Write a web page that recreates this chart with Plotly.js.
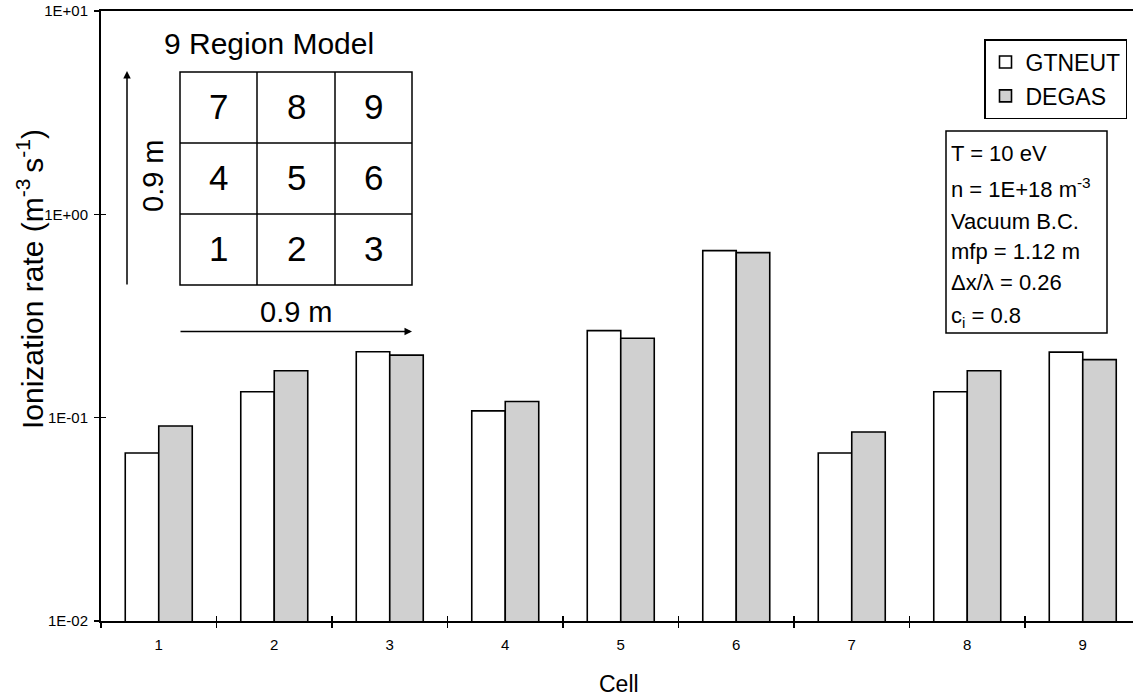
<!DOCTYPE html>
<html>
<head>
<meta charset="utf-8">
<script src="https://cdn.plot.ly/plotly-3.0.1.min.js"></script>
<style>html,body{margin:0;padding:0;background:#fff;}#chart{width:1133px;height:698px;}</style>
</head>
<body>
<div id="chart"></div>
<script>
// ---- data ----
const cells = ['1', '2', '3', '4', '5', '6', '7', '8', '9'];
const gtneut = [0.067, 0.134, 0.211, 0.108, 0.268, 0.663, 0.067, 0.134, 0.210];
const degas  = [0.091, 0.170, 0.203, 0.120, 0.246, 0.648, 0.085, 0.170, 0.193];
const yTickVals = [0.01, 0.1, 1, 10];
const yTickText = ['1E-02', '1E-01', '1E+00', '1E+01'];
const seriesNames = ['GTNEUT', 'DEGAS'];
const gridLabels = [['7', '8', '9'], ['4', '5', '6'], ['1', '2', '3']];
const paramLines = ['T = 10 eV', 'n = 1E+18 m<sup>-3</sup>', 'Vacuum B.C.', 'mfp = 1.12 m', '\u0394x/\u03bb = 0.26', 'c<sub>i</sub> = 0.8'];

// ---- layout geometry ----
const W = 1133, H = 698;
const M = {l: 101, r: 0, t: 11, b: 77};
const PW = W - M.l - M.r, PH = H - M.t - M.b;
const px = x => (x - M.l) / PW;
const py = y => 1 - (y - M.t) / PH;
const FONT = 'Liberation Sans, Arial, sans-serif';
const xRange = [-0.5, -0.5 + PW / 115.5];

const traces = [
  {type: 'bar', name: seriesNames[0], x: cells, y: gtneut, legendgroup: 'a',
   marker: {color: '#ffffff', line: {color: '#000000', width: 1.6}}},
  {type: 'bar', name: seriesNames[1], x: cells, y: degas, legendgroup: 'b',
   marker: {color: '#d0d0d0', line: {color: '#000000', width: 1.6}}},
  // empty carrier for the overlaid tick-only axes (inside half of the crossing ticks)
  {type: 'scatter', mode: 'markers', x: [], y: [], xaxis: 'x2', yaxis: 'y2', showlegend: false, hoverinfo: 'skip'}
];

const shapes = [];
const annotations = [];
const lineStyle = {color: '#000', width: 1.5};

// 9-region grid
const gx = [180, 257, 335, 412], gy = [72, 143, 214, 285];
shapes.push({type: 'rect', xref: 'paper', yref: 'paper', x0: px(gx[0]), x1: px(gx[3]), y0: py(gy[0]), y1: py(gy[3]), line: lineStyle});
[1, 2].forEach(i => {
  shapes.push({type: 'line', xref: 'paper', yref: 'paper', x0: px(gx[i]), x1: px(gx[i]), y0: py(gy[0]), y1: py(gy[3]), line: lineStyle});
  shapes.push({type: 'line', xref: 'paper', yref: 'paper', x0: px(gx[0]), x1: px(gx[3]), y0: py(gy[i]), y1: py(gy[i]), line: lineStyle});
});
gridLabels.forEach((row, r) => row.forEach((t, c) => {
  annotations.push({xref: 'paper', yref: 'paper', x: px((gx[c] + gx[c + 1]) / 2), y: py((gy[r] + gy[r + 1]) / 2 - 1),
    text: t, showarrow: false, xanchor: 'center', yanchor: 'middle', font: {family: FONT, size: 35, color: '#000'}});
}));
annotations.push({xref: 'paper', yref: 'paper', x: px(269), y: py(44), text: '9 Region Model', showarrow: false,
  xanchor: 'center', yanchor: 'middle', font: {family: FONT, size: 30, color: '#000'}});
annotations.push({xref: 'paper', yref: 'paper', x: px(153), y: py(176), text: '0.9 m', textangle: -90, showarrow: false,
  xanchor: 'center', yanchor: 'middle', font: {family: FONT, size: 29, color: '#000'}});
annotations.push({xref: 'paper', yref: 'paper', x: px(296), y: py(312), text: '0.9 m', showarrow: false,
  xanchor: 'center', yanchor: 'middle', font: {family: FONT, size: 29, color: '#000'}});
// arrows
annotations.push({xref: 'paper', yref: 'paper', x: px(127), y: py(71), ax: 0, ay: 215, text: '', showarrow: true,
  arrowhead: 2, arrowsize: 1, arrowwidth: 1.5, arrowcolor: '#000'});
annotations.push({xref: 'paper', yref: 'paper', x: px(412), y: py(331.5), ax: -233, ay: 0, text: '', showarrow: true,
  arrowhead: 2, arrowsize: 1, arrowwidth: 1.5, arrowcolor: '#000'});

// parameter box
shapes.push({type: 'rect', xref: 'paper', yref: 'paper', x0: px(946), x1: px(1107), y0: py(131), y1: py(333), line: lineStyle, fillcolor: '#fff', layer: 'above'});
const paramY = [154, 188, 222, 252, 282, 317];
paramLines.forEach((t, i) => {
  annotations.push({xref: 'paper', yref: 'paper', x: px(949), y: py(paramY[i]), text: t, showarrow: false,
    xanchor: 'left', yanchor: 'middle', font: {family: FONT, size: 22, color: '#000'}});
});

// axis titles
annotations.push({xref: 'paper', yref: 'paper', x: px(619), y: py(684), text: 'Cell', showarrow: false,
  xanchor: 'center', yanchor: 'middle', font: {family: FONT, size: 23, color: '#000'}});
annotations.push({xref: 'paper', yref: 'paper', x: px(30), y: py(279), text: 'Ionization rate (m<sup>-3 </sup>s<sup>-1</sup>)', textangle: -90, showarrow: false,
  xanchor: 'center', yanchor: 'middle', font: {family: FONT, size: 30, color: '#000'}});

const layout = {
  width: W, height: H,
  margin: M,
  paper_bgcolor: '#fff', plot_bgcolor: '#fff',
  font: {family: FONT, color: '#000'},
  barmode: 'group', bargap: 0.42, bargroupgap: 0,
  showlegend: true,
  legend: {x: px(1127), xanchor: 'right', y: py(39), yanchor: 'top', bgcolor: '#fff', bordercolor: '#000', borderwidth: 1.5,
    font: {family: FONT, size: 23, color: '#000'}, itemwidth: 30, tracegroupgap: 1},
  xaxis: {type: 'category', range: xRange, tickson: 'boundaries', ticks: 'outside', ticklen: 5, tickwidth: 1.5, tickcolor: '#000',
    showline: true, linecolor: '#000', linewidth: 2, mirror: true, showgrid: false, zeroline: false,
    tickfont: {family: FONT, size: 15, color: '#000'}, ticklabelstandoff: 9},
  xaxis2: {type: 'linear', overlaying: 'x', anchor: 'y', range: xRange, tickmode: 'array', tickvals: [0.5, 1.5, 2.5, 3.5, 4.5, 5.5, 6.5, 7.5],
    ticks: 'inside', ticklen: 5, tickwidth: 1.5, tickcolor: '#000', showticklabels: false, showline: false, showgrid: false, zeroline: false},
  yaxis: {type: 'log', range: [-2, 1], tickmode: 'array', tickvals: yTickVals, ticktext: yTickText, ticks: 'outside', ticklen: 5,
    tickwidth: 1.5, tickcolor: '#000', showline: true, linecolor: '#000', linewidth: 2, showgrid: false, zeroline: false,
    tickfont: {family: FONT, size: 15, color: '#000'}, ticklabelstandoff: 3},
  yaxis2: {type: 'log', overlaying: 'y', anchor: 'x', side: 'left', range: [-2, 1], tickmode: 'array', tickvals: yTickVals,
    ticks: 'inside', ticklen: 5, tickwidth: 1.5, tickcolor: '#000', showticklabels: false, showline: false, showgrid: false, zeroline: false},
  shapes: shapes,
  annotations: annotations
};

Plotly.newPlot('chart', traces, layout, {displayModeBar: false, staticPlot: true});
</script>
</body>
</html>
